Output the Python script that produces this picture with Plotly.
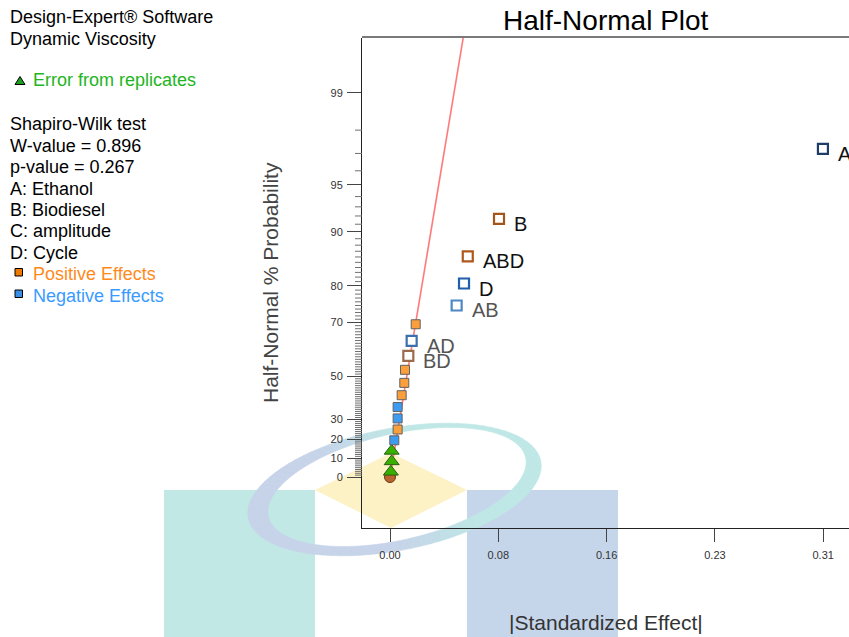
import math
from statistics import NormalDist

import plotly.graph_objects as go

# ---------------------------------------------------------------- data ----
# |standardized effect| of each term, ranked from smallest to largest
effect_abs = [0.0006, 0.0012, 0.0012, 0.0031, 0.0055, 0.0055, 0.0055, 0.0084,
              0.0103, 0.0108, 0.0132, 0.0156, 0.0185, 0.0480, 0.0533, 0.0560,
              0.0785, 0.3118]
# half-normal % probability of each ranked point
prob_pct = [2.78, 8.33, 13.89, 19.44, 25.00, 30.56, 36.11, 41.67, 47.22,
            52.78, 58.33, 63.89, 69.44, 75.00, 80.56, 86.11, 91.67, 97.22]
# err = error from replicates, pos / neg = sign of the effect
effect_kind = ["err", "err", "err", "neg", "pos", "neg", "neg", "pos", "pos",
               "pos", "pos", "neg", "pos", "neg", "neg", "pos", "pos", "neg"]
# model terms picked as significant (blank = not picked)
term_label = ["", "", "", "", "", "", "", "", "", "",
              "BD", "AD", "", "AB", "D", "ABD", "B", "A"]

# origin marker
origin_effect = [0.0]
origin_pct = [0.0]

# reference line through the small effects
line_effect = [0.0, 0.0600]
line_pct = [0.0, 99.92]

# axis ticks
x_tick_vals = [0.0, 0.078, 0.156, 0.234, 0.312]
x_tick_text = ["0.00", "0.08", "0.16", "0.23", "0.31"]
y_major_pct = [0, 10, 20, 30, 50, 70, 80, 90, 95, 99]
y_minor_pct = [p for p in range(1, 99) if p not in y_major_pct]

# side panel text
side_header = ["Design-Expert\u00ae Software", "Dynamic Viscosity"]
error_text = "Error from replicates"
stats_lines = ["Shapiro-Wilk test", "W-value = 0.896", "p-value = 0.267",
               "A: Ethanol", "B: Biodiesel", "C: amplitude", "D: Cycle"]
pos_text = "Positive Effects"
neg_text = "Negative Effects"

# ---------------------------------------------------------- geometry ----
W, H = 849, 637
ML, MR, MT, MB = 362, 0, 38, 109
PW, PH = W - ML - MR, H - MT - MB
FONT = "Liberation Sans, Arial, sans-serif"

ND = NormalDist()


def half_normal_z(pct):
    """Half-normal quantile used as the linear y coordinate."""
    return ND.inv_cdf(0.5 + pct / 200.0)


def px(xp):
    return (xp - ML) / PW


def py(yp):
    return (H - MB - yp) / PH


# ------------------------------------------------------------ styles ----
POS_FILL, NEG_FILL = "#fb9e3c", "#3d9bf2"
SEL_EDGE = {"A": "#1d3c68", "B": "#a2561c", "ABD": "#ad581c", "D": "#1f5fac",
            "AB": "#4f86c4", "AD": "#3c6fad", "BD": "#9a6c4c"}
LABEL_COLOR = {"A": "#111111", "B": "#111111", "ABD": "#111111", "D": "#111111",
               "AB": "#555555", "AD": "#555555", "BD": "#555555"}

z_all = [half_normal_z(p) for p in prob_pct]

fig = go.Figure()

# reference line
fig.add_trace(go.Scatter(
    x=line_effect, y=[half_normal_z(p) for p in line_pct], mode="lines",
    line=dict(color="rgb(255,122,122)", width=1.6), hoverinfo="skip"))

# origin
fig.add_trace(go.Scatter(
    x=origin_effect, y=[half_normal_z(p) for p in origin_pct], mode="markers",
    marker=dict(symbol="circle", size=11, color="#b8652e",
                line=dict(color="#6e3a18", width=1))))


def pick(cond):
    idx = [i for i in range(len(effect_abs)) if cond(i)]
    return idx, [effect_abs[i] for i in idx], [z_all[i] for i in idx]


# error from replicates
_, ex, ez = pick(lambda i: effect_kind[i] == "err")
fig.add_trace(go.Scatter(
    x=ex, y=ez, mode="markers",
    marker=dict(symbol="triangle-up", size=13, color="#38b000",
                line=dict(color="#2a5e12", width=1))))

# unpicked effects
for k, fill in (("pos", POS_FILL), ("neg", NEG_FILL)):
    _, ux, uz = pick(lambda i, k=k: effect_kind[i] == k and not term_label[i])
    fig.add_trace(go.Scatter(
        x=ux, y=uz, mode="markers",
        marker=dict(symbol="square", size=9, color=fill,
                    line=dict(color="#626262", width=1))))

# picked model terms
sel_idx, sx, sz = pick(lambda i: bool(term_label[i]))
fig.add_trace(go.Scatter(
    x=sx, y=sz, mode="markers",
    marker=dict(symbol="square", size=10, color="white",
                line=dict(color=[SEL_EDGE[term_label[i]] for i in sel_idx],
                          width=2.2))))

annotations = []
for i, x, z in zip(sel_idx, sx, sz):
    annotations.append(dict(
        x=x, y=z, xref="x", yref="y", text=term_label[i], showarrow=False,
        xanchor="left", yanchor="middle", xshift=13, yshift=-5,
        font=dict(family=FONT, size=20, color=LABEL_COLOR[term_label[i]])))

# titles
annotations.append(dict(
    x=0.5, y=py(20), xref="paper", yref="paper", text="Half-Normal Plot",
    showarrow=False, xanchor="center", yanchor="middle",
    font=dict(family=FONT, size=28, color="#000000")))
annotations.append(dict(
    x=0.5, y=py(623), xref="paper", yref="paper", text="|Standardized Effect|",
    showarrow=False, xanchor="center", yanchor="middle",
    font=dict(family=FONT, size=21, color="#333333")))
annotations.append(dict(
    x=px(270), y=0.5, xref="paper", yref="paper",
    text="Half-Normal % Probability", textangle=-90, showarrow=False,
    xanchor="center", yanchor="middle",
    font=dict(family=FONT, size=21, color="#444444")))

# side panel
def side_text(text, x, y, color="#000000"):
    annotations.append(dict(
        x=px(x), y=py(y), xref="paper", yref="paper", text=text,
        showarrow=False, xanchor="left", yanchor="middle",
        font=dict(family=FONT, size=18, color=color)))


for j, t in enumerate(side_header):
    side_text(t, 8, 17 + 21.5 * j)
side_text(error_text, 31, 80, "#22b522")
for j, t in enumerate(stats_lines):
    side_text(t, 8, 124 + 21.5 * j)
side_text(pos_text, 31, 274, "#ff8a1c")
side_text(neg_text, 31, 295.5, "#3a9bff")

shapes = []


def rect(x0, y0, x1, y1, fill, line="rgba(0,0,0,0)", lw=0, layer="below"):
    shapes.append(dict(type="rect", xref="paper", yref="paper",
                       x0=px(x0), x1=px(x1), y0=py(y0), y1=py(y1),
                       fillcolor=fill, line=dict(color=line, width=lw),
                       layer=layer))


def poly(points, fill, line=None, lw=0, layer="below"):
    d = "M " + " L ".join(f"{px(a):.5f},{py(b):.5f}" for a, b in points) + " Z"
    shapes.append(dict(type="path", xref="paper", yref="paper", path=d,
                       fillcolor=fill,
                       line=dict(color=line or "rgba(0,0,0,0)", width=lw),
                       layer=layer))


# background logo
rect(164, 490, 315, 660, "#c2e8e6")
rect(467, 490, 618, 660, "#c6d6ea")
poly([(315, 490), (391, 453), (467, 490), (391, 528)], "#fdf1c6")


def ell(cx, cy, a, b, rot, t):
    r = math.radians(rot)
    ca, sa = math.cos(t), math.sin(t)
    return (cx + a * ca * math.cos(r) - b * sa * math.sin(r),
            cy + a * ca * math.sin(r) + b * sa * math.cos(r))


BLUE = (198, 211, 233)
TEAL = (190, 231, 229)
N = 90
for k in range(N):
    t0 = 2 * math.pi * k / N
    t1 = 2 * math.pi * (k + 1) / N
    o0 = ell(394.5, 489.5, 149, 61, -11, t0)
    o1 = ell(394.5, 489.5, 149, 61, -11, t1)
    i0 = ell(397, 487, 132, 53, -13, t0)
    i1 = ell(397, 487, 132, 53, -13, t1)
    mx = (o0[0] + o1[0]) / 2
    my = (o0[1] + o1[1]) / 2
    f = min(1.0, max(0.0, ((mx - 390) + (480 - my) * 0.8) / 110 + 0.5))
    c = tuple(round(BLUE[n] + (TEAL[n] - BLUE[n]) * f) for n in range(3))
    col = f"rgb({c[0]},{c[1]},{c[2]})"
    poly([o0, o1, i1, i0], col, line=col, lw=0.6)

# minor probability ticks on the left axis
for p in y_minor_pct:
    zp = half_normal_z(p)
    shapes.append(dict(type="line", xref="paper", yref="y",
                       x0=px(355), x1=px(362), y0=zp, y1=zp,
                       line=dict(color="#707070", width=1), layer="above"))

# frame top edge
shapes.append(dict(type="line", xref="paper", yref="paper", x0=0, x1=1,
                   y0=py(37), y1=py(37), line=dict(color="#7a7a7a", width=2),
                   layer="above"))

# side panel symbols
poly([(15, 84.5), (25, 84.5), (20, 76.5)], "#1e9e1e", line="#000000", lw=1,
     layer="above")
rect(15, 268.5, 22.5, 276, "#f07a00", line="#000000", lw=1, layer="above")
rect(15, 290, 22.5, 297.5, "#3a8ee6", line="#000000", lw=1, layer="above")

fig.update_layout(
    width=W, height=H,
    margin=dict(l=ML, r=MR, t=MT, b=MB, pad=0),
    paper_bgcolor="white", plot_bgcolor="rgba(0,0,0,0)",
    showlegend=False,
    font=dict(family=FONT, color="#333333"),
    annotations=annotations, shapes=shapes,
)

fig.update_xaxes(
    range=[(ML - 390) / 1388.5, (W - 390) / 1388.5],
    tickmode="array", tickvals=x_tick_vals, ticktext=x_tick_text,
    ticks="outside", ticklen=13, tickcolor="#444444", tickwidth=1,
    ticklabelstandoff=4,
    showline=True, linecolor="#222222", linewidth=1,
    showgrid=False, zeroline=False,
    tickfont=dict(family=FONT, size=11, color="#333333"),
)

fig.update_yaxes(
    range=[(477 - (H - MB)) / 149.1, (477 - MT) / 149.1],
    tickmode="array", tickvals=[half_normal_z(p) for p in y_major_pct],
    ticktext=[str(p) for p in y_major_pct],
    ticks="outside", ticklen=14, tickcolor="#444444", tickwidth=1,
    ticklabelstandoff=2,
    showline=True, linecolor="#222222", linewidth=1,
    showgrid=False, zeroline=False,
    tickfont=dict(family=FONT, size=11, color="#333333"),
)

fig.write_html("out.html")
